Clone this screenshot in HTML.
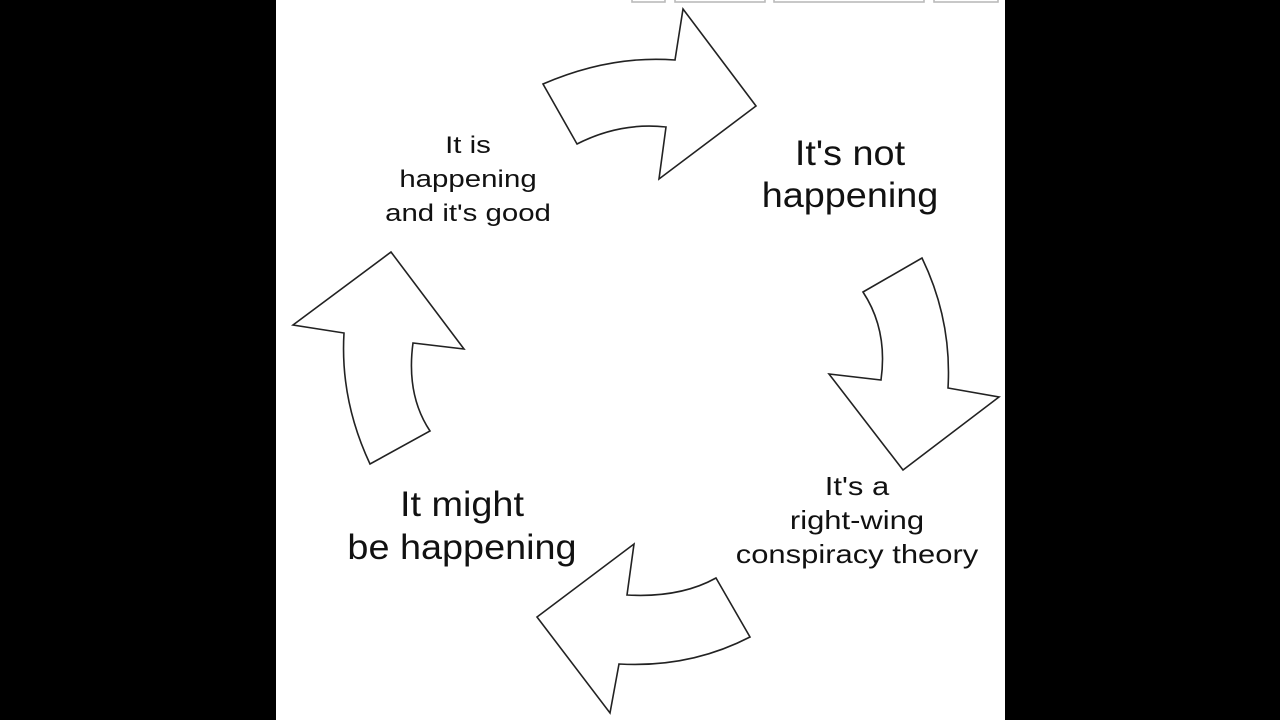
<!DOCTYPE html>
<html><head><style>
body{margin:0;width:1280px;height:720px;background:#000;position:relative;overflow:hidden;font-family:"Liberation Sans",Arial,sans-serif}
#w{position:absolute;left:276px;top:0;width:729px;height:720px;background:#fff}
.t{position:absolute;text-align:center;color:#111;white-space:nowrap}
</style></head><body>
<div id="w"></div>
<svg width="1280" height="720" style="position:absolute;left:0;top:0">
<g fill="#fff" stroke="#222" stroke-width="1.6" stroke-linejoin="miter">
<rect x="632" y="-2" width="33" height="4" stroke="#bbb"/>
<rect x="675" y="-2" width="90" height="4" stroke="#bbb"/>
<rect x="774" y="-2" width="150" height="4" stroke="#bbb"/>
<rect x="934" y="-2" width="64" height="4" stroke="#bbb"/>
<path d="M543,84 Q610,55 675,60 L683,9 L756,106 L659,179 L666,127 Q620,122 577,144 Z"/>
<path d="M863,292 L922,258 Q952,320 948,388 L999,397 L903,470 L829,374 L881,380 Q888,330 863,292 Z"/>
<path d="M716,578 L750,637 Q690,668 619,664 L610,713 L537,617 L634,544 L627,595 Q680,598 716,578 Z"/>
<path d="M391,252 L464,349 L413,343 Q406,395 430,431 L370,464 Q340,400 344,333 L293,325 Z"/>
</g></svg>
<div class="t" style="left:468px;top:129px;font-size:24.5px;line-height:34px;transform:translateX(-50%) scaleX(1.2)">It is<br>happening<br>and it's good</div>
<div class="t" style="left:850px;top:133px;font-size:35px;line-height:42px;transform:translateX(-50%) scaleX(1.08)">It's not<br>happening</div>
<div class="t" style="left:857px;top:469px;font-size:26px;line-height:34px;transform:translateX(-50%) scaleX(1.19)">It's a<br>right-wing<br>conspiracy theory</div>
<div class="t" style="left:462px;top:483px;font-size:35px;line-height:43px;transform:translateX(-50%) scaleX(1.08)">It might<br>be happening</div>
</body></html>
